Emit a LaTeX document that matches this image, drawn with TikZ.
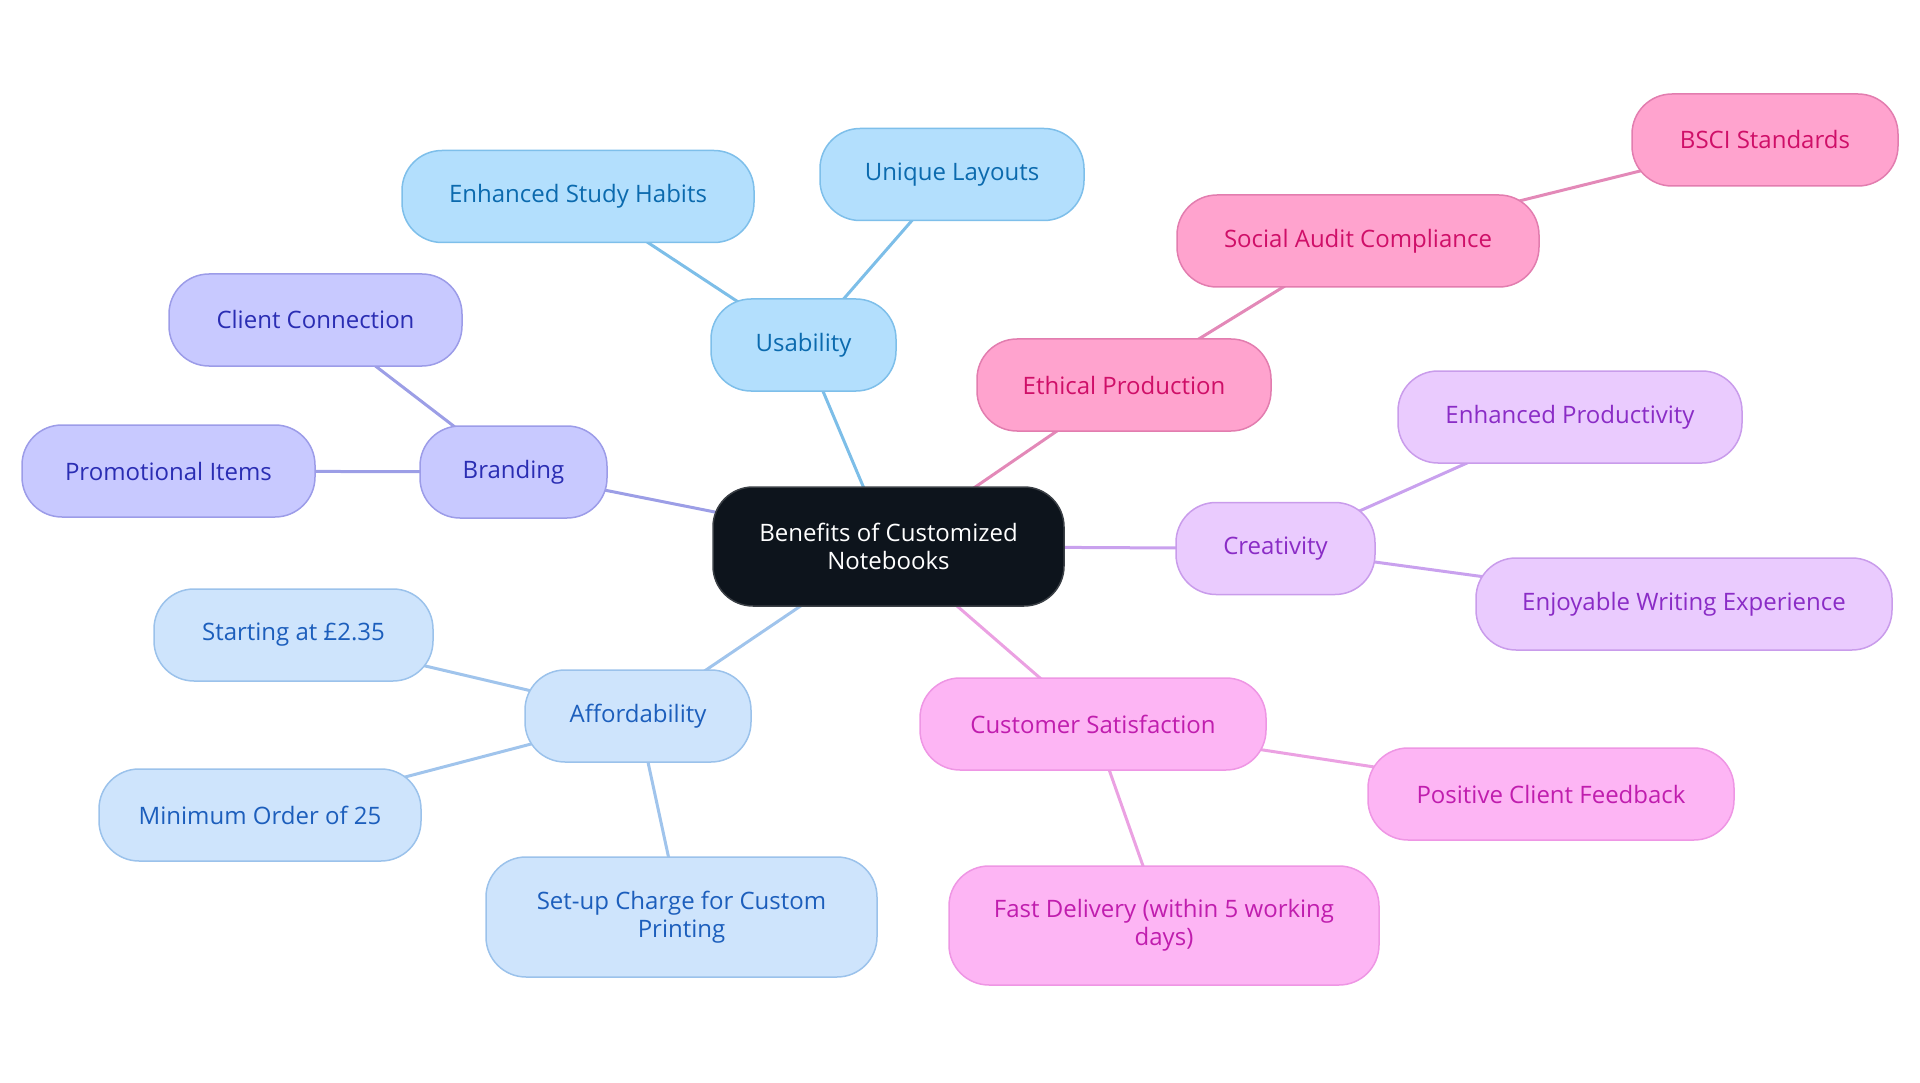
\documentclass[tikz,border=0pt]{standalone}
\usepackage{fontspec}
\setmainfont{Open Sans}
\usetikzlibrary{backgrounds}
\definecolor{rootfill}{HTML}{0D141C}
\definecolor{rootdraw}{HTML}{3A3F45}
% usability (sky)
\definecolor{ufill}{HTML}{B3DFFD}
\definecolor{udraw}{HTML}{7EBFEA}
\definecolor{utext}{HTML}{0B6AAE}
\definecolor{uline}{HTML}{7DBEE8}
% branding (periwinkle)
\definecolor{bfill}{HTML}{C8C9FF}
\definecolor{bdraw}{HTML}{9C9CE8}
\definecolor{btext}{HTML}{2A2DB3}
\definecolor{bline}{HTML}{9C9EE6}
% affordability (pale blue)
\definecolor{afill}{HTML}{CEE4FC}
\definecolor{adraw}{HTML}{9BC2EB}
\definecolor{atext}{HTML}{1C5EBC}
\definecolor{aline}{HTML}{A0C4EC}
% ethical (pink)
\definecolor{efill}{HTML}{FFA3CE}
\definecolor{edraw}{HTML}{E27DAF}
\definecolor{etext}{HTML}{CF0F68}
\definecolor{eline}{HTML}{E389B8}
% creativity (lavender)
\definecolor{cfill}{HTML}{EACBFE}
\definecolor{cdraw}{HTML}{C99CEB}
\definecolor{ctext}{HTML}{8A2CC6}
\definecolor{cline}{HTML}{C9A1EE}
% customer (magenta)
\definecolor{sfill}{HTML}{FDB5F4}
\definecolor{sdraw}{HTML}{EE96E4}
\definecolor{stext}{HTML}{C01DAE}
\definecolor{sline}{HTML}{EBA1E2}
\begin{document}
\begin{tikzpicture}[x=1pt,y=-1pt,
  mm/.style={rounded corners=40pt, line width=1.5pt, align=center,
    font=\fontsize{24}{28}\selectfont, minimum height=92pt, inner sep=0pt},
  rootbox/.style={mm, fill=rootfill, draw=rootdraw, text=white, minimum height=119pt},
  ubox/.style={mm, fill=ufill, draw=udraw, text=utext},
  bbox/.style={mm, fill=bfill, draw=bdraw, text=btext},
  abox/.style={mm, fill=afill, draw=adraw, text=atext},
  ebox/.style={mm, fill=efill, draw=edraw, text=etext},
  cbox/.style={mm, fill=cfill, draw=cdraw, text=ctext},
  sbox/.style={mm, fill=sfill, draw=sdraw, text=stext},
  lk/.style={line width=3pt}]
\useasboundingbox (0,0) rectangle (1920,1083);

\node[rootbox, minimum width=351pt] (root) at (888.5,546.5) {Benefits of Customized\\Notebooks};

\node[ubox, minimum width=185pt] (usab) at (803.5,345) {Usability};
\node[ubox, minimum width=264pt] (uniq) at (952,174.5) {Unique Layouts};
\node[ubox, minimum width=352pt] (study) at (578,196.5) {Enhanced Study Habits};

\node[bbox, minimum width=187pt] (brand) at (513.5,472) {Branding};
\node[bbox, minimum width=293pt] (client) at (315.5,320) {Client Connection};
\node[bbox, minimum width=293pt] (promo) at (168.5,471) {Promotional Items};

\node[abox, minimum width=226pt] (afford) at (638,716) {Affordability};
\node[abox, minimum width=279pt] (start) at (293.5,635) {Starting at £2.35};
\node[abox, minimum width=322pt] (minord) at (260,815) {Minimum Order of 25};
\node[abox, minimum width=391pt, minimum height=120pt] (setup) at (681.5,917) {Set-up Charge for Custom\\Printing};

\node[ebox, minimum width=294pt] (ethic) at (1124,385) {Ethical Production};
\node[ebox, minimum width=362pt] (audit) at (1358,241) {Social Audit Compliance};
\node[ebox, minimum width=266pt] (bsci) at (1765,140) {BSCI Standards};

\node[cbox, minimum width=199pt] (creat) at (1275.5,548.5) {Creativity};
\node[cbox, minimum width=344pt] (prod) at (1570,417) {Enhanced Productivity};
\node[cbox, minimum width=416pt] (enjoy) at (1684,604) {Enjoyable Writing Experience};

\node[sbox, minimum width=346pt] (cust) at (1093,724) {Customer Satisfaction};
\node[sbox, minimum width=366pt] (posit) at (1551,794) {Positive Client Feedback};
\node[sbox, minimum width=430pt, minimum height=119pt] (fast) at (1164,925.5) {Fast Delivery (within 5 working\\days)};

\begin{scope}[on background layer]
\draw[lk, uline] (root.center) -- (usab.center);
\draw[lk, uline] (usab.center) -- (uniq.center);
\draw[lk, uline] (usab.center) -- (study.center);
\draw[lk, bline] (root.center) -- (brand.center);
\draw[lk, bline] (brand.center) -- (client.center);
\draw[lk, bline] (brand.center) -- (promo.center);
\draw[lk, aline] (root.center) -- (afford.center);
\draw[lk, aline] (afford.center) -- (start.center);
\draw[lk, aline] (afford.center) -- (minord.center);
\draw[lk, aline] (afford.center) -- (setup.center);
\draw[lk, eline] (root.center) -- (ethic.center);
\draw[lk, eline] (ethic.center) -- (audit.center);
\draw[lk, eline] (audit.center) -- (bsci.center);
\draw[lk, cline] (root.center) -- (creat.center);
\draw[lk, cline] (creat.center) -- (prod.center);
\draw[lk, cline] (creat.center) -- (enjoy.center);
\draw[lk, sline] (root.center) -- (cust.center);
\draw[lk, sline] (cust.center) -- (posit.center);
\draw[lk, sline] (cust.center) -- (fast.center);
\end{scope}
\end{tikzpicture}
\end{document}
